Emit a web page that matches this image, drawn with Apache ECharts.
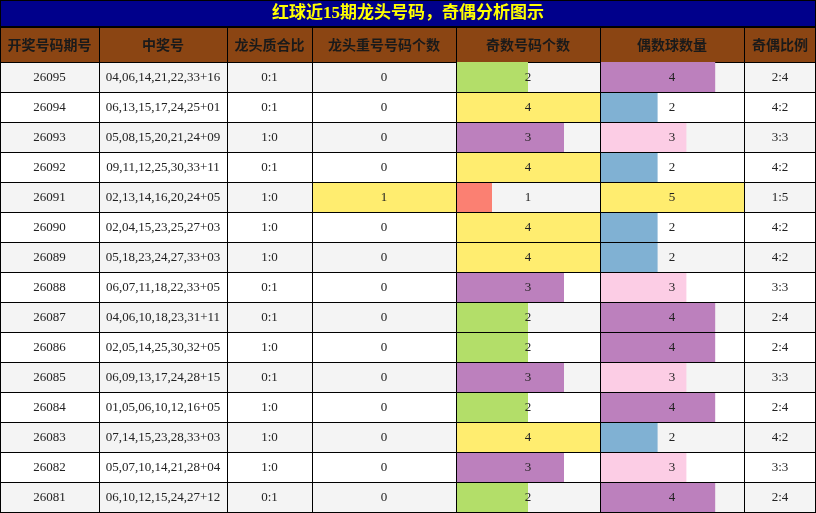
<!DOCTYPE html>
<html>
<head>
<meta charset="utf-8">
<script src="https://cdn.jsdelivr.net/npm/echarts@6/dist/echarts.min.js"></script>
<style>
html,body{margin:0;padding:0;background:#fff;}
#chart{width:816px;height:513px;}
</style>
</head>
<body>
<div id="chart"></div>
<script>
// ---- data ----
const title = '红球近15期龙头号码，奇偶分析图示';
const headers = ['开奖号码期号', '中奖号', '龙头质合比', '龙头重号号码个数', '奇数号码个数', '偶数球数量', '奇偶比例'];
const periods = ['26095','26094','26093','26092','26091','26090','26089','26088','26087','26086','26085','26084','26083','26082','26081'];
const draws = [
  '04,06,14,21,22,33+16','06,13,15,17,24,25+01','05,08,15,20,21,24+09','09,11,12,25,30,33+11',
  '02,13,14,16,20,24+05','02,04,15,23,25,27+03','05,18,23,24,27,33+03','06,07,11,18,22,33+05',
  '04,06,10,18,23,31+11','02,05,14,25,30,32+05','06,09,13,17,24,28+15','01,05,06,10,12,16+05',
  '07,14,15,23,28,33+03','05,07,10,14,21,28+04','06,10,12,15,24,27+12'
];
const headRatio = ['0:1','0:1','1:0','0:1','1:0','1:0','1:0','0:1','0:1','1:0','0:1','1:0','1:0','1:0','0:1'];
const repeatCounts = [0,0,0,0,1,0,0,0,0,0,0,0,0,0,0];
const oddCounts = [2,4,3,4,1,4,4,3,2,2,3,2,4,3,2];
const evenCounts = [4,2,3,2,5,2,2,3,4,4,3,4,2,3,4];
const oddEvenRatio = ['2:4','4:2','3:3','4:2','1:5','4:2','4:2','3:3','2:4','2:4','3:3','2:4','4:2','3:3','2:4'];
const repeatMax = 1, oddMax = 4, evenMax = 5;

// ---- style / layout ----
const colEdges = [0, 99, 227, 312, 456, 600, 744, 816];
const TOP = 62, ROWH = 30;
const repeatColors = {1:'#FFED6F'};
const oddColors = {1:'#FB8072', 2:'#B3DE69', 3:'#BC80BD', 4:'#FFED6F'};
const evenColors = {2:'#80B1D3', 3:'#FCCDE5', 4:'#BC80BD', 5:'#FFED6F'};
const cellFont = '13px "Liberation Serif", "DejaVu Serif", serif';

const chart = echarts.init(document.getElementById('chart'), null, {renderer:'canvas'});

const rowIdx = periods.map((p, i) => [0, i]);

function catY(gi){
  return {type:'category', gridIndex:gi, data:periods, inverse:true, show:false};
}
function valX(gi, max){
  return {type:'value', gridIndex:gi, min:0, max:max, show:false};
}
function barSeries(gi, values, colors){
  return {
    type:'bar', xAxisIndex:gi, yAxisIndex:gi, z:3,
    barCategoryGap:'0%', barGap:'0%', animation:false,
    data: values.map(v => ({value:v, itemStyle:{color: colors[v] || 'transparent'}})),
    silent:true
  };
}

function renderBg(params, api){
  const i = api.value(1);
  const c = api.coord([0, i]);
  const h = api.size([0, 1])[1];
  const top = c[1] - h/2;
  const x0 = api.coord([colEdges[0], i])[0];
  const x1 = api.coord([colEdges[colEdges.length-1], i])[0];
  return {type:'rect', shape:{x:x0, y:top, width:x1-x0, height:h},
    style:{fill: i % 2 === 0 ? '#F4F4F4' : '#FFFFFF'}};
}

function renderCells(params, api){
  const i = api.value(1);
  const c = api.coord([0, i]);
  const h = api.size([0, 1])[1];
  const top = Math.round(c[1] - h/2);
  const texts = [periods[i], draws[i], headRatio[i], String(repeatCounts[i]), String(oddCounts[i]), String(evenCounts[i]), oddEvenRatio[i]];
  const children = [];
  for (let j = 0; j < texts.length; j++){
    const xa = api.coord([colEdges[j], i])[0];
    const xb = api.coord([colEdges[j+1], i])[0];
    children.push({type:'text', style:{text:texts[j], x:(xa+xb)/2, y:top + h/2 + 0.5,
      align:'center', verticalAlign:'middle', font:cellFont, fill:'#222'}});
  }
  // horizontal line at bottom of row
  const xl = api.coord([colEdges[0], i])[0];
  const xr = api.coord([colEdges[colEdges.length-1], i])[0];
  children.push({type:'line', shape:{x1:xl, y1:top+h+0.5, x2:xr, y2:top+h+0.5}, style:{stroke:'#000', lineWidth:1}});
  // vertical lines
  for (let j = 0; j < colEdges.length; j++){
    let x = api.coord([colEdges[j], i])[0];
    x = j === colEdges.length-1 ? x - 0.5 : x + 0.5;
    children.push({type:'line', shape:{x1:x, y1:top, x2:x, y2:top+h+1}, style:{stroke:'#000', lineWidth:1}});
  }
  return {type:'group', children};
}

// header graphics
const graphics = [
  {type:'rect', shape:{x:0, y:0, width:816, height:27}, style:{fill:'#00008B'}, z:1},
  {type:'text', style:{text:title, x:408, y:14, align:'center', verticalAlign:'middle',
    font:'bold 17px "Liberation Serif", "Noto Sans CJK SC", serif', fill:'#FFFF00'}, z:2},
  {type:'rect', shape:{x:0, y:27, width:816, height:35}, style:{fill:'#8B4513'}, z:1},
  {type:'line', shape:{x1:0, y1:0.5, x2:816, y2:0.5}, style:{stroke:'#000', lineWidth:1}, z:3},
  {type:'line', shape:{x1:0, y1:27, x2:816, y2:27}, style:{stroke:'#000', lineWidth:2}, z:3},
  {type:'line', shape:{x1:0, y1:62.5, x2:816, y2:62.5}, style:{stroke:'#000', lineWidth:1}, z:3},
  {type:'line', shape:{x1:0.5, y1:0, x2:0.5, y2:62}, style:{stroke:'#000', lineWidth:1}, z:3},
  {type:'line', shape:{x1:815.5, y1:0, x2:815.5, y2:62}, style:{stroke:'#000', lineWidth:1}, z:3}
];
for (let j = 0; j < headers.length; j++){
  graphics.push({type:'text', style:{text:headers[j], x:(colEdges[j]+colEdges[j+1])/2, y:45,
    align:'center', verticalAlign:'middle', font:'bold 14px "Noto Sans CJK SC", sans-serif', fill:'#1a1a1a'}, z:2});
  if (j > 0){
    graphics.push({type:'line', shape:{x1:colEdges[j]+0.5, y1:27, x2:colEdges[j]+0.5, y2:62}, style:{stroke:'#000', lineWidth:1}, z:3});
  }
}

const option = {
  animation:false,
  backgroundColor:'#ffffff',
  grid:[
    {left:0, top:TOP, width:816, height:ROWH*periods.length},
    {left:colEdges[3], top:TOP, width:colEdges[4]-colEdges[3], height:ROWH*periods.length},
    {left:colEdges[4], top:TOP, width:colEdges[5]-colEdges[4], height:ROWH*periods.length},
    {left:colEdges[5], top:TOP, width:colEdges[6]-colEdges[5], height:ROWH*periods.length}
  ],
  xAxis:[valX(0, 816), valX(1, repeatMax), valX(2, oddMax), valX(3, evenMax)],
  yAxis:[catY(0), catY(1), catY(2), catY(3)],
  graphic:graphics,
  series:[
    {type:'custom', xAxisIndex:0, yAxisIndex:0, z:1, data:rowIdx, renderItem:renderBg, silent:true, encode:{x:0, y:1}},
    barSeries(1, repeatCounts, repeatColors),
    barSeries(2, oddCounts, oddColors),
    barSeries(3, evenCounts, evenColors),
    {type:'custom', xAxisIndex:0, yAxisIndex:0, z:5, data:rowIdx, renderItem:renderCells, silent:true, encode:{x:0, y:1}}
  ]
};
chart.setOption(option);
</script>
</body>
</html>
